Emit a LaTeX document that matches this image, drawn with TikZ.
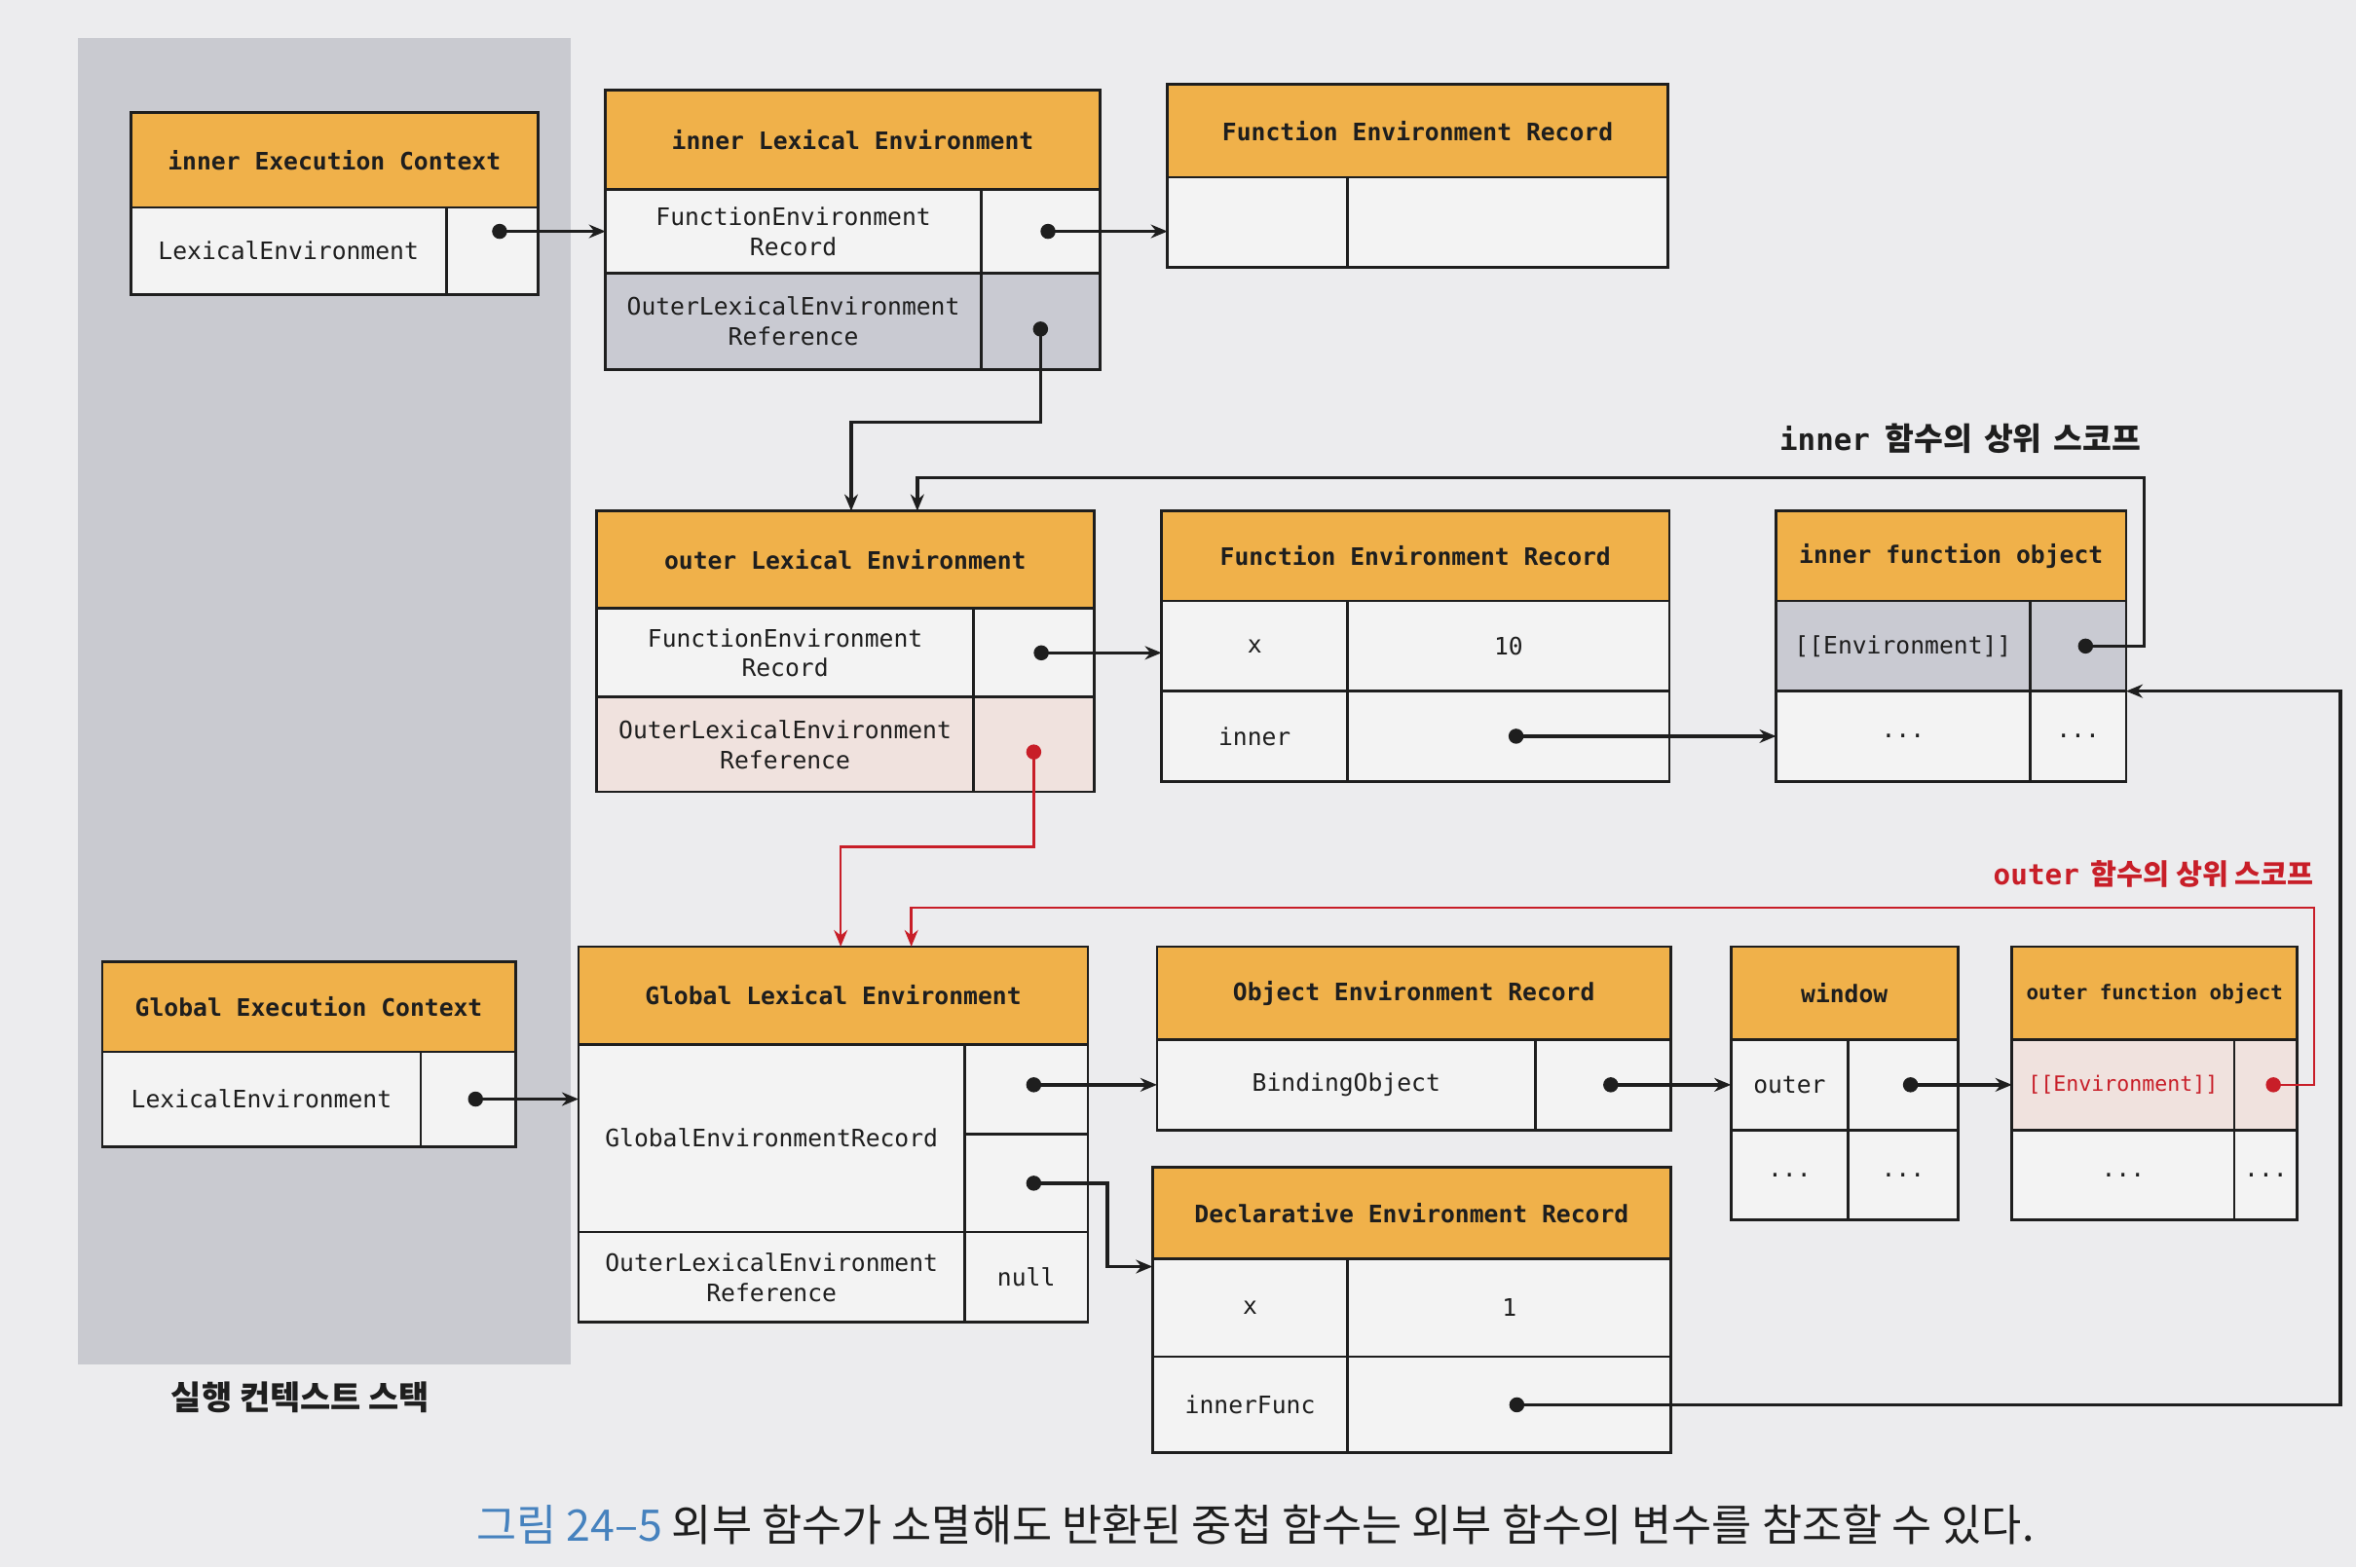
\documentclass[tikz,border=0pt]{standalone}
\usepackage{fontspec}
\setmonofont{DejaVu Sans Mono}
\newfontfamily\cjk{Noto Sans CJK KR}
\usetikzlibrary{arrows.meta}
\definecolor{pagebg}{RGB}{236,236,238}
\definecolor{stackbg}{RGB}{201,202,208}
\definecolor{hdrc}{RGB}{240,177,74}
\definecolor{cellw}{RGB}{243,243,243}
\definecolor{cellg}{RGB}{201,202,210}
\definecolor{cellp}{RGB}{240,226,222}
\definecolor{redc}{RGB}{200,30,40}
\definecolor{capblue}{RGB}{70,130,190}
\definecolor{ink}{RGB}{30,30,30}
\tikzset{
  box/.style={draw=ink, line width=1.8pt, anchor=north west, inner sep=0pt, outer sep=0pt,
    align=center, text=ink, fill=cellw, font=\ttfamily\fontsize{16}{20}\selectfont},
  hdr/.style={box, fill=hdrc, font=\ttfamily\bfseries\fontsize{16}{20}\selectfont},
  conn/.style={line width=2.2pt, draw=ink, {Circle[length=10pt]}-{Stealth[length=11pt,width=9pt]}},
  rconn/.style={conn, draw=redc, line width=1.6pt},
  lbl/.style={inner sep=0pt, outer sep=0pt}
}
\begin{document}
\begin{tikzpicture}[x=1pt,y=-1pt]
\fill[pagebg] (0,0) rectangle (1568,1043);
\useasboundingbox (0,0) rectangle (1568,1043);
% execution context stack
\fill[stackbg] (52,25) rectangle (380,908);
\node[lbl, font=\cjk\bfseries\fontsize{22}{25}\selectfont, text=ink] (stacklbl) at (200,930) {실행 컨텍스트 스택};

% inner Execution Context
\node[hdr, minimum width=271pt, minimum height=63pt] (iec-h) at (87,75) {inner Execution Context};
\node[box, minimum width=210pt, minimum height=58pt] (iec-k) at (87,138) {LexicalEnvironment};
\node[box, minimum width=61pt, minimum height=58pt] (iec-v) at (297,138) {};

% inner Lexical Environment
\node[hdr, minimum width=329pt, minimum height=66pt] (ile-h) at (403,60) {inner Lexical Environment};
\node[box, minimum width=250pt, minimum height=56pt] (ile-k1) at (403,126) {FunctionEnvironment\\Record};
\node[box, minimum width=79pt, minimum height=56pt] (ile-v1) at (653,126) {};
\node[box, fill=cellg, minimum width=250pt, minimum height=64pt] (ile-k2) at (403,182) {OuterLexicalEnvironment\\Reference};
\node[box, fill=cellg, minimum width=79pt, minimum height=64pt] (ile-v2) at (653,182) {};

% Function Environment Record (top)
\node[hdr, minimum width=333pt, minimum height=62pt] (fer1-h) at (777,56) {Function Environment Record};
\node[box, minimum width=120pt, minimum height=60pt] (fer1-k) at (777,118) {};
\node[box, minimum width=213pt, minimum height=60pt] (fer1-v) at (897,118) {};

% outer Lexical Environment
\node[hdr, minimum width=331pt, minimum height=65pt] (ole-h) at (397,340) {outer Lexical Environment};
\node[box, minimum width=251pt, minimum height=59pt] (ole-k1) at (397,405) {FunctionEnvironment\\Record};
\node[box, minimum width=80pt, minimum height=59pt] (ole-v1) at (648,405) {};
\node[box, fill=cellp, minimum width=251pt, minimum height=63pt] (ole-k2) at (397,464) {OuterLexicalEnvironment\\Reference};
\node[box, fill=cellp, minimum width=80pt, minimum height=63pt] (ole-v2) at (648,464) {};

% Function Environment Record (middle)
\node[hdr, minimum width=338pt, minimum height=60pt] (fer2-h) at (773,340) {Function Environment Record};
\node[box, minimum width=124pt, minimum height=60pt] (fer2-k1) at (773,400) {x};
\node[box, minimum width=214pt, minimum height=60pt] (fer2-v1) at (897,400) {10};
\node[box, minimum width=124pt, minimum height=60pt] (fer2-k2) at (773,460) {inner};
\node[box, minimum width=214pt, minimum height=60pt] (fer2-v2) at (897,460) {};

% inner function object
\node[hdr, minimum width=233pt, minimum height=60pt] (ifo-h) at (1182,340) {inner function object};
\node[box, fill=cellg, minimum width=169pt, minimum height=60pt] (ifo-k1) at (1182,400) {[[Environment]]};
\node[box, fill=cellg, minimum width=64pt, minimum height=60pt] (ifo-v1) at (1351,400) {};
\node[box, minimum width=169pt, minimum height=60pt] (ifo-k2) at (1182,460) {...};
\node[box, minimum width=64pt, minimum height=60pt] (ifo-v2) at (1351,460) {...};

\node[lbl, anchor=east, text=ink, font=\bfseries\fontsize{20}{24}\selectfont] (lbl-inner) at (1425,292) {\ttfamily inner\hspace{0.5em}\cjk\fontsize{21}{24}\selectfont 함수의\hspace{0.15em} 상위\hspace{0.15em} 스코프};

% Global Execution Context
\node[hdr, minimum width=275pt, minimum height=60pt] (gec-h) at (68,640) {Global Execution Context};
\node[box, minimum width=212pt, minimum height=63pt] (gec-k) at (68,700) {LexicalEnvironment};
\node[box, minimum width=63pt, minimum height=63pt] (gec-v) at (280,700) {};

% Global Lexical Environment
\node[hdr, minimum width=339pt, minimum height=65pt] (gle-h) at (385,630) {Global Lexical Environment};
\node[box, minimum width=257pt, minimum height=125pt] (gle-k1) at (385,695) {GlobalEnvironmentRecord};
\node[box, minimum width=82pt, minimum height=60pt] (gle-v1a) at (642,695) {};
\node[box, minimum width=82pt, minimum height=65pt] (gle-v1b) at (642,755) {};
\node[box, minimum width=257pt, minimum height=60pt] (gle-k2) at (385,820) {OuterLexicalEnvironment\\Reference};
\node[box, minimum width=82pt, minimum height=60pt] (gle-v2) at (642,820) {null};

% Object Environment Record
\node[hdr, minimum width=342pt, minimum height=62pt] (oer-h) at (770,630) {Object Environment Record};
\node[box, minimum width=252pt, minimum height=60pt] (oer-k) at (770,692) {BindingObject};
\node[box, minimum width=90pt, minimum height=60pt] (oer-v) at (1022,692) {};

% window
\node[hdr, minimum width=151pt, minimum height=62pt] (win-h) at (1152,630) {window};
\node[box, minimum width=78pt, minimum height=60pt] (win-k1) at (1152,692) {outer};
\node[box, minimum width=73pt, minimum height=60pt] (win-v1) at (1230,692) {};
\node[box, minimum width=78pt, minimum height=60pt] (win-k2) at (1152,752) {...};
\node[box, minimum width=73pt, minimum height=60pt] (win-v2) at (1230,752) {...};

% outer function object
\node[hdr, minimum width=190pt, minimum height=62pt, font=\ttfamily\bfseries\fontsize{13.5}{16}\selectfont] (ofo-h) at (1339,630) {outer function object};
\node[box, fill=cellp, text=redc, minimum width=148pt, minimum height=60pt, font=\ttfamily\fontsize{14}{16}\selectfont] (ofo-k1) at (1339,692) {[[Environment]]};
\node[box, fill=cellp, minimum width=42pt, minimum height=60pt] (ofo-v1) at (1487,692) {};
\node[box, minimum width=148pt, minimum height=60pt] (ofo-k2) at (1339,752) {...};
\node[box, minimum width=42pt, minimum height=60pt] (ofo-v2) at (1487,752) {...};

\node[lbl, anchor=east, text=redc, font=\bfseries\fontsize{19}{22}\selectfont] (lbl-outer) at (1540,582) {\ttfamily outer\hspace{0.4em}\cjk\fontsize{19}{22}\selectfont 함수의 상위 스코프};

% Declarative Environment Record
\node[hdr, minimum width=345pt, minimum height=61pt] (der-h) at (767,777) {Declarative Environment Record};
\node[box, minimum width=130pt, minimum height=65pt] (der-k1) at (767,838) {x};
\node[box, minimum width=215pt, minimum height=65pt] (der-v1) at (897,838) {1};
\node[box, minimum width=130pt, minimum height=64pt] (der-k2) at (767,903) {innerFunc};
\node[box, minimum width=215pt, minimum height=64pt] (der-v2) at (897,903) {};

% connectors
\draw[conn] (iec-v.center |- ile-k1.west) -- (ile-k1.west);
\draw[conn] (ile-v1.center) -- (ile-v1.center -| fer1-k.west);
\draw[conn] (ile-v2.center) -- ++(0,67) -| ([xshift=4pt]ole-h.north);
\draw[conn] (ole-v1.center) -- (ole-v1.center -| fer2-k1.west);
\draw[conn] (fer2-v2.center) -- (fer2-v2.center -| ifo-k2.west);
\draw[conn] (ifo-v1.center) -- ++(44,0) -- ++(0,-112) -| ([xshift=48pt]ole-h.north);
\draw[rconn] (ole-v2.center) -- ++(0,68) -| ([xshift=5pt]gle-h.north);
\draw[rconn] (ofo-v1.center) -- ++(32,0) -- ++(0,-118) -| ([xshift=52pt]gle-h.north);
\draw[conn] (gec-v.center) -- (gec-v.center -| gle-k1.west);
\draw[conn] (gle-v1a.center |- oer-k.west) -- (oer-k.west);
\draw[conn] (oer-v.center) -- (win-k1.west);
\draw[conn] (win-v1.center) -- (ofo-k1.west);
\draw[conn] (gle-v1b.center) -- ++(54,0) |- ([yshift=-5pt]der-k1.north west);
\draw[conn] (der-v2.center) -- ++(553,0) |- (ifo-v1.south east);

% caption
\node[lbl, anchor=west, font=\cjk\fontsize{29}{32}\selectfont, text=ink] (caption) at (317,1015) {\textcolor{capblue}{그림 24–5} 외부 함수가 소멸해도 반환된 중첩 함수는 외부 함수의 변수를 참조할 수 있다.};
\end{tikzpicture}
\end{document}
